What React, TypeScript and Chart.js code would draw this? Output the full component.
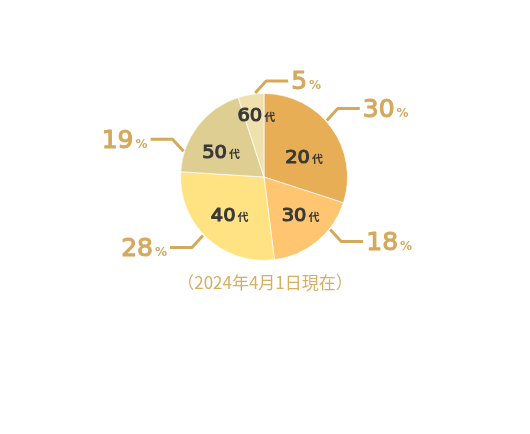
import { useEffect, useRef } from "react";
import { Chart, registerables } from "chart.js";

Chart.register(...registerables);

// ---- data ----
const categories = ["20", "30", "40", "50", "60"];
const unitLabel = "代";
const percentages = [30, 18, 28, 19, 5];
const percentSign = "%";
const caption = "（2024年4月1日現在）";

// ---- styles ----
const sliceColors = ["#E8AE55", "#FFC570", "#FFE383", "#DFCE92", "#EFE1AD"];
const GOLD = "#D5A95C";
const CAPTION_GOLD = "#D8AE62";
const DARK = "#3A3937";
const NUM_FONT = '"DejaVu Sans"';
const CJK_FONT = '"Noto Sans CJK JP"';

// label placement tweaks (degrees relative to slice middle, radius in px)
const innerPlacement = [
  { dAngle: 9, r: 45 },
  { dAngle: -5, r: 52 },
  { dAngle: -1, r: 51 },
  { dAngle: -7, r: 50 },
  { dAngle: 2, r: 63 },
];
const leaderPlacement = [
  { dAngle: -6, dirX: 1, dirY: -1 },
  { dAngle: -12, dirX: 1, dirY: 1 },
  { dAngle: 3, dirX: -1, dirY: 1 },
  { dAngle: -20, dirX: -1, dirY: -1 },
  { dAngle: 3, dirX: 1, dirY: -1 },
];

function heavyText(
  ctx: CanvasRenderingContext2D,
  t: string,
  x: number,
  y: number,
  w: number,
  sx = 1
) {
  ctx.save();
  ctx.translate(x, y);
  ctx.scale(sx, 1);
  ctx.fillText(t, 0, 0);
  ctx.lineWidth = w;
  ctx.lineJoin = "round";
  ctx.strokeStyle = ctx.fillStyle as string;
  ctx.strokeText(t, 0, 0);
  ctx.restore();
}

const labelPlugin = {
  id: "sliceLabels",
  afterDatasetsDraw(chart: any) {
    const ctx = chart.ctx as CanvasRenderingContext2D;
    const meta = chart.getDatasetMeta(0);
    const D = Math.PI / 180;
    let cxAll = 0;
    let bottom = 0;
    meta.data.forEach((arc: any, i: number) => {
      const { x, y, startAngle, endAngle, outerRadius } = arc.getProps(
        ["x", "y", "startAngle", "endAngle", "outerRadius"],
        true
      );
      cxAll = x;
      bottom = y + outerRadius;
      const mid = (startAngle + endAngle) / 2;

      // inner label
      const ip = innerPlacement[i];
      const a = mid + ip.dAngle * D;
      const cx = x + Math.cos(a) * ip.r;
      const cy = y + Math.sin(a) * ip.r;
      ctx.save();
      ctx.textAlign = "left";
      ctx.textBaseline = "alphabetic";
      ctx.fillStyle = DARK;
      const innerScale = 1.08;
      ctx.font = `18px ${NUM_FONT}`;
      const numW = ctx.measureText(categories[i]).width * innerScale;
      ctx.font = `bold 11px ${CJK_FONT}`;
      const unitW = ctx.measureText(unitLabel).width;
      const gap = 2;
      const left = cx - (numW + gap + unitW) / 2;
      const base = cy + 6.5;
      ctx.font = `18px ${NUM_FONT}`;
      heavyText(ctx, categories[i], left, base, 1.1, innerScale);
      ctx.font = `bold 11px ${CJK_FONT}`;
      ctx.fillText(unitLabel, left + numW + gap, base);

      // leader line
      const lp = leaderPlacement[i];
      const la = mid + lp.dAngle * D;
      const sx = x + Math.cos(la) * (outerRadius + 1);
      const sy = y + Math.sin(la) * (outerRadius + 1);
      const ex = sx + lp.dirX * 11;
      const ey = sy + lp.dirY * 12;
      const hx = ex + lp.dirX * 22;
      ctx.strokeStyle = GOLD;
      ctx.lineWidth = 3;
      ctx.lineJoin = "round";
      ctx.beginPath();
      ctx.moveTo(sx, sy);
      ctx.lineTo(ex, ey);
      ctx.lineTo(hx, ey);
      ctx.stroke();

      // outer percentage label
      ctx.fillStyle = GOLD;
      const txt = String(percentages[i]);
      ctx.font = `25px ${NUM_FONT}`;
      const tW = ctx.measureText(txt).width;
      ctx.font = `bold 12px ${NUM_FONT}`;
      const pW = ctx.measureText(percentSign).width;
      const pGap = 2;
      const tb = ey + 8.5;
      let tx: number;
      if (lp.dirX > 0) tx = hx + 3;
      else tx = hx - 3 - (tW + pGap + pW);
      ctx.font = `25px ${NUM_FONT}`;
      heavyText(ctx, txt, tx, tb, 1.1);
      ctx.font = `bold 12px ${NUM_FONT}`;
      ctx.fillText(percentSign, tx + tW + pGap, tb);
      ctx.restore();
    });

    // caption
    ctx.save();
    ctx.fillStyle = CAPTION_GOLD;
    ctx.font = `17px ${CJK_FONT}`;
    ctx.textAlign = "center";
    ctx.textBaseline = "middle";
    ctx.fillText(caption, cxAll + 1, bottom + 22);
    ctx.restore();
  },
};

export default function App() {
  const ref = useRef<HTMLCanvasElement | null>(null);
  useEffect(() => {
    if (!ref.current) return;
    const chart = new Chart(ref.current, {
      type: "pie",
      data: {
        labels: categories.map((c) => c + unitLabel),
        datasets: [
          {
            data: percentages,
            backgroundColor: sliceColors,
            borderColor: "rgba(255,255,255,0.7)",
            borderWidth: 1,
          },
        ],
      },
      options: {
        responsive: false,
        animation: false,
        devicePixelRatio: 1,
        layout: { padding: { left: 180, right: 182, top: 93, bottom: 173 } },
        plugins: {
          legend: { display: false },
          tooltip: { enabled: false },
        },
      },
      plugins: [labelPlugin],
    });
    return () => chart.destroy();
  }, []);
  return (
    <div style={{ position: "absolute", left: 0, top: 0, width: 530, height: 434, background: "#fff" }}>
      <canvas ref={ref} width={530} height={434} />
    </div>
  );
}
